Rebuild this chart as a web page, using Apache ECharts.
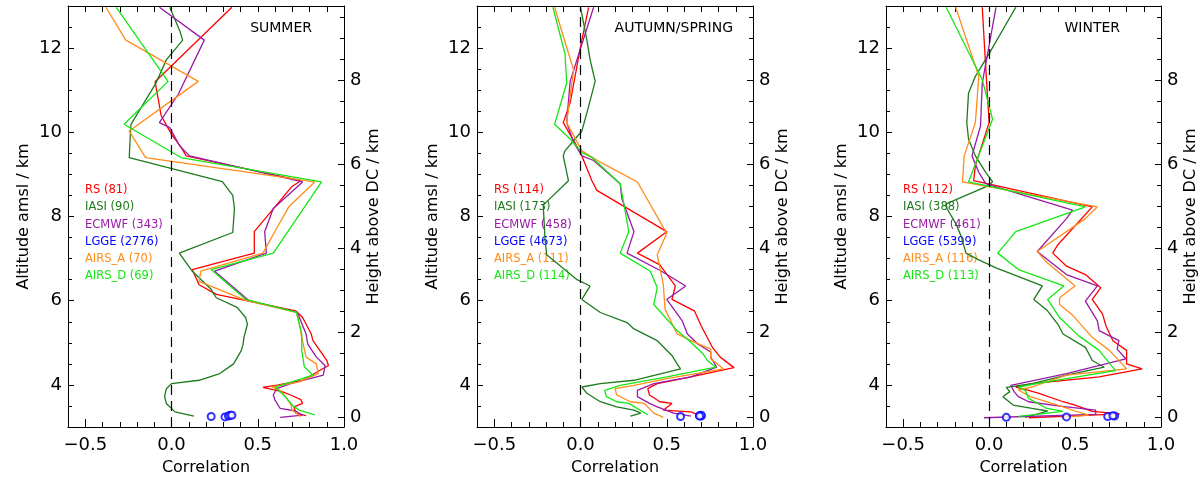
<!DOCTYPE html>
<html>
<head>
<meta charset="utf-8">
<script src="https://cdn.jsdelivr.net/npm/echarts@6/dist/echarts.min.js"></script>
<style>html,body{margin:0;padding:0;background:#fff}#c{width:1200px;height:481px}</style>
</head>
<body>
<div id="c"></div>
<script>
// ---------- DATA ----------
const panelTitles = ['SUMMER', 'AUTUMN/SPRING', 'WINTER'];
const seriesNames = ['RS', 'IASI', 'ECMWF', 'LGGE', 'AIRS_A', 'AIRS_D'];
const summerCounts = [81, 90, 343, 2776, 70, 69];
const autumnCounts = [114, 173, 458, 4673, 111, 114];
const winterCounts = [112, 388, 461, 5399, 116, 113];
const xTickLabels = [-0.5, 0.0, 0.5, 1.0];
const altTickLabels = [4, 6, 8, 10, 12];
const heightTickLabels = [0, 2, 4, 6, 8];
const domeCAltitude = 3.24; // km amsl, offset of right axis

// [correlation, altitude km] pairs, bottom to top
const summer_RS = [[0.78,3.27],[0.72,3.33],[0.71,3.48],[0.76,3.56],[0.75,3.65],[0.69,3.76],[0.64,3.84],[0.53,3.94],[0.62,4.0],[0.76,4.11],[0.91,4.46],[0.90,4.58],[0.82,5.05],[0.81,5.21],[0.76,5.60],[0.72,5.76],[0.26,6.15],[0.16,6.38],[0.12,6.74],[0.48,7.13],[0.48,7.64],[0.70,8.72],[0.75,8.85],[0.085,9.44],[0.05,9.68],[0.0,9.95],[-0.06,10.4],[-0.095,11.2],[0.35,12.97]];
const summer_IASI = [[0.13,3.26],[0.02,3.36],[-0.03,3.56],[-0.04,3.72],[-0.03,3.91],[0.0,4.03],[0.16,4.11],[0.28,4.27],[0.36,4.50],[0.405,4.82],[0.415,4.97],[0.42,5.13],[0.44,5.44],[0.43,5.60],[0.38,5.84],[0.26,6.07],[0.24,6.19],[0.23,6.27],[0.12,6.70],[0.045,7.13],[0.355,7.62],[0.365,8.19],[0.355,8.50],[0.295,8.83],[-0.245,9.40],[-0.24,9.84],[-0.235,10.19],[-0.09,11.17],[-0.03,11.72],[0.065,12.19],[0.047,12.42],[-0.01,12.97]];
const summer_ECMWF = [[0.63,3.23],[0.76,3.28],[0.72,3.38],[0.63,3.44],[0.60,3.64],[0.59,3.76],[0.61,3.91],[0.69,4.03],[0.88,4.23],[0.89,4.46],[0.84,4.66],[0.79,4.97],[0.78,5.21],[0.73,5.72],[0.45,6.0],[0.25,6.70],[0.55,7.13],[0.54,7.64],[0.59,8.19],[0.76,8.82],[0.105,9.44],[0.047,9.68],[-0.01,10.11],[-0.07,10.23],[0.04,10.91],[0.19,12.19],[-0.07,12.97]];
const summer_LGGE = [[0.23,3.25],[0.31,3.24],[0.33,3.26],[0.34,3.28],[0.35,3.28]];
const summer_AIRS_A = [[0.75,3.25],[0.70,3.40],[0.69,3.55],[0.66,3.72],[0.63,3.87],[0.58,3.95],[0.74,4.07],[0.85,4.27],[0.84,4.50],[0.78,4.66],[0.755,5.13],[0.745,5.36],[0.725,5.72],[0.43,6.01],[0.16,6.46],[0.17,6.70],[0.53,7.13],[0.61,7.72],[0.68,8.23],[0.83,8.82],[-0.15,9.40],[-0.245,10.03],[0.155,11.21],[-0.265,12.19],[-0.38,12.97]];
const summer_AIRS_D = [[0.83,3.29],[0.74,3.40],[0.70,3.52],[0.66,3.72],[0.60,3.95],[0.82,4.23],[0.77,4.43],[0.755,4.82],[0.755,5.21],[0.725,5.72],[0.43,6.03],[0.23,6.74],[0.59,7.13],[0.87,8.82],[0.055,9.40],[-0.275,10.19],[-0.02,11.21],[-0.32,12.97]];

const autumn_RS = [[0.70,3.26],[0.64,3.36],[0.48,3.40],[0.53,3.56],[0.46,3.60],[0.40,3.76],[0.39,3.91],[0.445,4.03],[0.64,4.19],[0.89,4.41],[0.81,4.66],[0.765,4.89],[0.70,5.40],[0.66,5.76],[0.53,6.03],[0.55,6.35],[0.46,6.85],[0.33,7.13],[0.50,7.64],[0.095,8.62],[0.066,8.85],[0.0,9.52],[-0.10,10.23],[-0.06,10.70],[0.0,12.03],[0.047,12.97]];
const autumn_IASI = [[0.29,3.26],[0.35,3.33],[0.31,3.40],[0.21,3.48],[0.115,3.60],[0.037,3.80],[0.008,3.95],[0.115,4.03],[0.31,4.11],[0.58,4.38],[0.56,4.50],[0.53,4.70],[0.445,5.05],[0.31,5.33],[0.27,5.48],[0.115,5.72],[0.008,6.03],[0.056,6.35],[-0.02,6.50],[-0.196,7.09],[-0.206,7.48],[-0.216,8.27],[-0.07,8.85],[-0.10,9.44],[-0.09,9.56],[-0.04,9.80],[0.008,10.03],[0.037,10.46],[0.085,11.21],[0.056,11.72],[0.037,12.19],[0.0,12.97]];
const autumn_ECMWF = [[0.64,3.26],[0.54,3.33],[0.445,3.48],[0.40,3.56],[0.33,3.72],[0.33,3.87],[0.425,4.03],[0.64,4.19],[0.79,4.42],[0.755,4.66],[0.755,4.78],[0.68,4.97],[0.62,5.21],[0.59,5.52],[0.50,6.03],[0.61,6.35],[0.47,6.70],[0.27,7.13],[0.31,7.64],[0.24,8.42],[0.23,8.78],[0.076,9.33],[0.008,9.44],[-0.04,9.76],[-0.08,10.23],[-0.06,11.21],[0.076,12.97]];
const autumn_LGGE = [[0.58,3.25],[0.69,3.27],[0.70,3.26],[0.70,3.28],[0.69,3.26]];
const autumn_AIRS_A = [[0.48,3.23],[0.425,3.33],[0.37,3.56],[0.29,3.60],[0.21,3.76],[0.20,3.91],[0.31,3.99],[0.50,4.15],[0.83,4.38],[0.755,4.62],[0.755,4.85],[0.64,5.05],[0.56,5.21],[0.49,5.80],[0.48,6.38],[0.445,7.09],[0.50,7.60],[0.33,8.82],[0.115,9.29],[0.008,9.56],[-0.08,10.23],[-0.04,11.48],[-0.09,12.15],[-0.15,12.97]];
const autumn_AIRS_D = [[0.39,3.29],[0.28,3.56],[0.21,3.60],[0.15,3.72],[0.14,3.87],[0.23,3.99],[0.50,4.19],[0.785,4.42],[0.735,4.58],[0.71,4.74],[0.63,5.05],[0.56,5.29],[0.425,5.91],[0.445,6.31],[0.405,6.70],[0.23,7.13],[0.28,7.64],[0.23,8.78],[0.066,9.40],[0.008,9.52],[-0.06,9.84],[-0.15,10.19],[-0.08,11.17],[-0.09,11.87],[-0.16,12.97]];

const winter_RS = [[0.23,3.22],[0.76,3.31],[0.60,3.37],[0.50,3.52],[0.43,3.60],[0.29,3.80],[0.23,3.87],[0.155,3.95],[0.25,4.03],[0.64,4.19],[0.89,4.38],[0.80,4.50],[0.80,4.82],[0.72,5.05],[0.68,5.40],[0.66,5.68],[0.60,6.03],[0.65,6.31],[0.56,6.62],[0.45,6.82],[0.37,7.13],[0.40,7.33],[0.60,8.23],[-0.09,8.85],[-0.08,9.21],[0.0,10.23],[-0.02,11.56],[-0.04,12.97]];
const winter_IASI = [[0.21,3.23],[0.34,3.38],[0.25,3.44],[0.14,3.52],[0.08,3.72],[0.12,3.84],[0.10,3.94],[0.25,4.03],[0.45,4.23],[0.67,4.42],[0.60,4.58],[0.58,4.74],[0.56,4.89],[0.43,5.21],[0.40,5.44],[0.34,5.76],[0.26,6.03],[0.31,6.35],[0.04,6.78],[-0.06,6.97],[-0.135,7.13],[-0.16,7.5],[-0.19,7.8],[-0.245,8.19],[-0.25,8.3],[0.0,8.74],[0.02,8.83],[-0.02,9.05],[-0.08,9.44],[-0.12,9.84],[-0.13,10.23],[-0.12,10.93],[-0.08,11.33],[0.0,11.87],[0.155,12.97]];
const winter_ECMWF = [[-0.03,3.22],[0.62,3.30],[0.62,3.40],[0.40,3.50],[0.23,3.60],[0.17,3.72],[0.145,3.84],[0.126,3.99],[0.45,4.27],[0.795,4.62],[0.745,4.85],[0.755,5.05],[0.64,5.29],[0.63,5.52],[0.56,5.99],[0.63,6.35],[0.45,6.62],[0.28,7.17],[0.45,7.95],[0.485,8.15],[-0.02,8.78],[-0.06,9.05],[-0.10,9.44],[-0.05,10.15],[-0.04,11.17],[0.04,12.97]];
const winter_LGGE = [[0.10,3.23],[0.45,3.24],[0.69,3.25],[0.73,3.26],[0.72,3.27]];
const winter_AIRS_A = [[0.42,3.23],[0.58,3.28],[0.50,3.38],[0.43,3.48],[0.24,3.72],[0.17,3.88],[0.25,3.95],[0.45,4.23],[0.80,4.38],[0.70,4.82],[0.60,5.13],[0.48,5.68],[0.41,5.91],[0.41,6.07],[0.50,6.35],[0.33,6.93],[0.28,7.17],[0.56,7.95],[0.63,8.23],[-0.155,8.82],[-0.145,9.44],[-0.08,10.23],[-0.06,11.33],[-0.195,12.97]];
const winter_AIRS_D = [[0.17,3.25],[0.43,3.37],[0.33,3.45],[0.23,3.68],[0.21,3.87],[0.17,3.95],[0.30,4.05],[0.735,4.34],[0.64,4.82],[0.52,5.17],[0.41,5.60],[0.34,6.03],[0.435,6.35],[0.17,6.74],[0.05,7.13],[0.155,7.64],[0.56,8.23],[-0.12,8.82],[0.02,10.31],[-0.04,11.25],[-0.25,12.97]];

// ---------- STYLE / LAYOUT ----------
const colors = ['#ff0000', '#1d7a1d', '#9a1aa8', '#0000ff', '#ff8c1a', '#14e814'];
const panelData = [
  [summer_RS, summer_IASI, summer_ECMWF, summer_LGGE, summer_AIRS_A, summer_AIRS_D],
  [autumn_RS, autumn_IASI, autumn_ECMWF, autumn_LGGE, autumn_AIRS_A, autumn_AIRS_D],
  [winter_RS, winter_IASI, winter_ECMWF, winter_LGGE, winter_AIRS_A, winter_AIRS_D]
];
const panelCounts = [summerCounts, autumnCounts, winterCounts];
const gridLefts = [68, 477, 886];
const gridTop = 6, gridW = 276, gridH = 424;
const titleRight = [312, 733, 1120];
const FONT = 'DejaVu Sans';

function range(a, b, s) { const r = []; for (let v = a; v <= b + 1e-9; v += s) r.push(Math.round(v * 1000) / 1000); return r; }
const xMinor = range(-0.6, 1.0, 0.1).filter(v => !xTickLabels.some(t => Math.abs(t - v) < 1e-6));
const xAll = range(-0.6, 1.0, 0.1);
const altMinor = range(3.5, 12.5, 0.5).filter(v => !altTickLabels.includes(v));
const hMinor = range(0.5, 9.5, 0.5).filter(v => !heightTickLabels.includes(v)).map(h => h + domeCAltitude);
const hMajor = heightTickLabels.map(h => h + domeCAltitude);

const xFmt = v => (v < -1e-9 ? '\u2212' : '') + Math.abs(v).toFixed(1);

const grids = [], xAxes = [], yAxes = [], series = [], graphics = [];
for (let p = 0; p < 3; p++) {
  grids.push({ left: gridLefts[p], top: gridTop, width: gridW, height: gridH });
  const lineBlack = { show: true, onZero: false, lineStyle: { color: '#000', width: 1 } };
  const noLine = { show: false, onZero: false };
  // x main
  xAxes.push({ type: 'value', gridIndex: p, min: -0.6, max: 1.0, position: 'bottom',
    axisLine: lineBlack, splitLine: { show: false },
    axisTick: { show: true, inside: true, length: 8, customValues: xTickLabels, lineStyle: { color: '#000' } },
    axisLabel: { customValues: xTickLabels, formatter: xFmt, color: '#000', fontFamily: FONT, fontSize: 18, margin: 9 },
    name: 'Correlation', nameLocation: 'middle', nameGap: 33,
    nameTextStyle: { color: '#000', fontFamily: FONT, fontSize: 16 } });
  // x minor bottom
  xAxes.push({ type: 'value', gridIndex: p, min: -0.6, max: 1.0, position: 'bottom',
    axisLine: noLine, splitLine: { show: false }, axisLabel: { show: false },
    axisTick: { show: true, inside: true, length: 5, customValues: xMinor, lineStyle: { color: '#000' } } });
  // x top
  xAxes.push({ type: 'value', gridIndex: p, min: -0.6, max: 1.0, position: 'top',
    axisLine: lineBlack, splitLine: { show: false }, axisLabel: { show: false },
    axisTick: { show: true, inside: true, length: 6, customValues: xAll, lineStyle: { color: '#000' } } });
  // y left main
  yAxes.push({ type: 'value', gridIndex: p, min: 3, max: 13, position: 'left',
    axisLine: lineBlack, splitLine: { show: false },
    axisTick: { show: true, inside: true, length: 6, customValues: altTickLabels, lineStyle: { color: '#000' } },
    axisLabel: { customValues: altTickLabels, color: '#000', fontFamily: FONT, fontSize: 18, margin: 6 },
    name: 'Altitude amsl / km', nameLocation: 'middle', nameRotate: 90, nameGap: 36,
    nameTextStyle: { color: '#000', fontFamily: FONT, fontSize: 16 } });
  // y left minor
  yAxes.push({ type: 'value', gridIndex: p, min: 3, max: 13, position: 'left',
    axisLine: noLine, splitLine: { show: false }, axisLabel: { show: false },
    axisTick: { show: true, inside: true, length: 4, customValues: altMinor, lineStyle: { color: '#000' } } });
  // y right main (height above DC)
  yAxes.push({ type: 'value', gridIndex: p, min: 3, max: 13, position: 'right',
    axisLine: lineBlack, splitLine: { show: false },
    axisTick: { show: true, inside: true, length: 6, customValues: hMajor, lineStyle: { color: '#000' } },
    axisLabel: { customValues: hMajor, formatter: v => String(Math.round(v - domeCAltitude)), color: '#000', fontFamily: FONT, fontSize: 18, margin: 6 },
    name: 'Height above DC / km', nameLocation: 'middle', nameRotate: 90, nameGap: 22,
    nameTextStyle: { color: '#000', fontFamily: FONT, fontSize: 16 } });
  // y right minor
  yAxes.push({ type: 'value', gridIndex: p, min: 3, max: 13, position: 'right',
    axisLine: noLine, splitLine: { show: false }, axisLabel: { show: false },
    axisTick: { show: true, inside: true, length: 4, customValues: hMinor, lineStyle: { color: '#000' } } });

  const xi = p * 3, yi = p * 4;
  // zero dashed line
  series.push({ type: 'line', xAxisIndex: xi, yAxisIndex: yi, data: [], silent: true,
    markLine: { silent: true, symbol: ['none', 'none'], label: { show: false },
      lineStyle: { color: '#000', type: [10, 6], width: 1.2 }, data: [{ xAxis: 0 }] } });
  for (let s = 0; s < seriesNames.length; s++) {
    const d = panelData[p][s];
    if (seriesNames[s] === 'LGGE') {
      series.push({ type: 'scatter', name: 'LGGE', xAxisIndex: xi, yAxisIndex: yi, data: d,
        symbol: 'emptyCircle', symbolSize: 7, itemStyle: { color: colors[s], borderColor: colors[s], borderWidth: 2 }, z: 5 });
    } else {
      series.push({ type: 'line', name: seriesNames[s], xAxisIndex: xi, yAxisIndex: yi, data: d,
        symbol: 'none', showSymbol: false, lineStyle: { color: colors[s], width: 1.3 } });
    }
  }
  // legend text
  for (let s = 0; s < seriesNames.length; s++) {
    graphics.push({ type: 'text', x: gridLefts[p] + 17, y: 190 + s * 17.3, z: 1,
      style: { text: seriesNames[s] + ' (' + panelCounts[p][s] + ')', fill: colors[s],
        font: '11.5px "' + FONT + '"', textVerticalAlign: 'middle' } });
  }
  graphics.push({ type: 'text', x: titleRight[p], y: 28,
    style: { text: panelTitles[p], fill: '#000', font: '14px "' + FONT + '"', textAlign: 'right', textVerticalAlign: 'middle' } });
}

const chart = echarts.init(document.getElementById('c'), null, { renderer: 'canvas' });
chart.setOption({
  animation: false,
  backgroundColor: '#fff',
  grid: grids, xAxis: xAxes, yAxis: yAxes, series: series, graphic: graphics
});
</script>
</body>
</html>
